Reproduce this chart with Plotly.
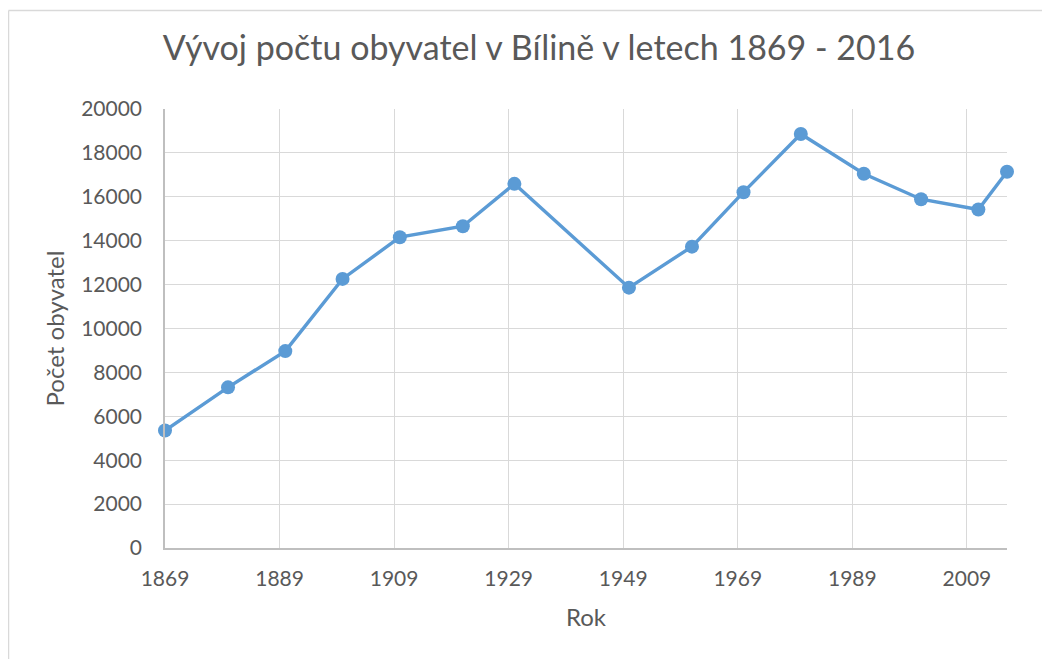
import plotly.graph_objects as go

years = [1869, 1880, 1890, 1900, 1910, 1921, 1930, 1950, 1961, 1970, 1980, 1991, 2001, 2011, 2016]
population = [5350, 7320, 8970, 12260, 14160, 14660, 16590, 11860, 13730, 16210, 18860, 17050, 15890, 15420, 17140]

title_text = "Vývoj počtu obyvatel v Bílině v letech 1869 - 2016"
x_title = "Rok"
y_title = "Počet obyvatel"

FONT = "Lato, 'Open Sans', sans-serif"
TXT = "#595959"

# page body has an 8px default margin; compensate so the plot sits where the reference has it
OFF = 8
W, H = 1050, 659
L, T = 165 - OFF, 109 - OFF
PW, PH = 842, 439
R = W - L - PW
B = H - T - PH

fig = go.Figure()
fig.add_trace(go.Scatter(
    x=years, y=population, mode="lines+markers",
    line=dict(color="#5B9BD5", width=3.4),
    marker=dict(color="#5B9BD5", size=14),
    cliponaxis=False,
    showlegend=False, hoverinfo="x+y",
))

def px_x(p):
    return (p - OFF - L) / PW

def px_y(p):
    return (T + PH - (p - OFF)) / PH

fig.update_layout(
    width=W, height=H,
    margin=dict(l=L, r=R, t=T, b=B, autoexpand=False),
    paper_bgcolor="white", plot_bgcolor="white",
    font=dict(family=FONT, color=TXT, size=21),
    title=dict(text=title_text, x=(539 - OFF) / W, xanchor="center",
               y=1 - (48 - OFF) / H, yanchor="middle",
               yref="container", xref="container",
               font=dict(size=34, color=TXT, family=FONT)),
    xaxis=dict(
        range=[1869, 2016], tick0=1869, dtick=20, tickmode="linear",
        tickformat="d",
        showgrid=True, gridcolor="#D9D9D9", gridwidth=1.3,
        showline=True, linecolor="#BFBFBF", linewidth=1.5,
        zeroline=False, ticks="", ticklabelstandoff=11,
        tickfont=dict(size=21, color=TXT),
        title=dict(text=x_title, font=dict(size=24, color=TXT), standoff=20),
        fixedrange=True,
    ),
    yaxis=dict(
        range=[0, 20000], tick0=0, dtick=2000, tickmode="linear",
        tickformat="d",
        showgrid=True, gridcolor="#D9D9D9", gridwidth=1.3,
        showline=True, linecolor="#BFBFBF", linewidth=1.5,
        zeroline=False, ticks="", ticklabelstandoff=17,
        tickfont=dict(size=21, color=TXT),
        title=dict(text=y_title, font=dict(size=24, color=TXT), standoff=10),
        fixedrange=True,
    ),
    shapes=[
        dict(type="line", xref="paper", yref="paper",
             x0=px_x(8.5), x1=px_x(1070),
             y0=px_y(10.5), y1=px_y(10.5),
             line=dict(color="#D9D9D9", width=1.5)),
        dict(type="line", xref="paper", yref="paper",
             x0=px_x(8.5), x1=px_x(8.5),
             y0=px_y(10.5), y1=px_y(680),
             line=dict(color="#D9D9D9", width=1.5)),
    ],
)

fig.write_html("out.html")
